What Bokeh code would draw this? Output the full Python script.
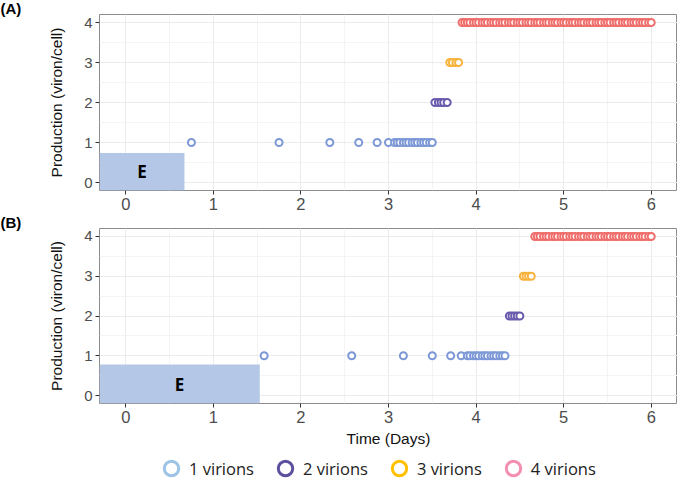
import numpy as np
from bokeh.plotting import figure
from bokeh.layouts import column
from bokeh.models import Range1d, SingleIntervalTicker, Title, Legend, LegendItem
from bokeh.core.properties import value
from bokeh.embed import file_html
from bokeh.resources import INLINE

# virion production levels and their names
levels = [1, 2, 3, 4]
level_names = ["1 virions", "2 virions", "3 virions", "4 virions"]
point_colors = ["#7d98d6", "#6a5aad", "#f7b23b", "#ef6e6b"]
legend_colors = ["#9dc3e6", "#5e4f9e", "#ffc000", "#f48fb1"]

x_lim = [-0.3, 6.3]
y_lim = [-0.2, 4.2]

# panel (A): release times (days) for each production level
a_one = [0.75, 1.75, 2.33, 2.66, 2.87, 3.0, 3.07, 3.1, 3.13, 3.17, 3.2, 3.23,
         3.27, 3.3, 3.33, 3.37, 3.4, 3.43, 3.47, 3.5]
a_two = [3.53, 3.57, 3.6, 3.63, 3.67]
a_three = [3.7, 3.73, 3.77, 3.8]
a_four = [3.84, 3.87, 3.9, 3.93, 3.97, 4.0, 4.03, 4.07, 4.1, 4.13, 4.17, 4.2,
          4.23, 4.27, 4.3, 4.33, 4.37, 4.4, 4.43, 4.47, 4.5, 4.53, 4.57, 4.6,
          4.63, 4.67, 4.7, 4.73, 4.77, 4.8, 4.83, 4.87, 4.9, 4.93, 4.97, 5.0,
          5.03, 5.07, 5.1, 5.13, 5.17, 5.2, 5.23, 5.27, 5.3, 5.33, 5.37, 5.4,
          5.43, 5.47, 5.5, 5.53, 5.57, 5.6, 5.63, 5.67, 5.7, 5.73, 5.77, 5.8,
          5.83, 5.87, 5.9, 5.93, 5.97, 6.0]
a_eclipse_end = 0.67
a_eclipse_top = 0.74

# panel (B)
b_one = [1.58, 2.58, 3.17, 3.5, 3.71, 3.83, 3.9, 3.93, 3.97, 4.0, 4.03, 4.07,
         4.1, 4.13, 4.17, 4.2, 4.23, 4.27, 4.3, 4.33]
b_two = [4.38, 4.41, 4.44, 4.47, 4.5]
b_three = [4.54, 4.57, 4.6, 4.63]
b_four = [4.67, 4.7, 4.73, 4.77, 4.8, 4.83, 4.87, 4.9, 4.93, 4.97, 5.0, 5.03,
          5.07, 5.1, 5.13, 5.17, 5.2, 5.23, 5.27, 5.3, 5.33, 5.37, 5.4, 5.43,
          5.47, 5.5, 5.53, 5.57, 5.6, 5.63, 5.67, 5.7, 5.73, 5.77, 5.8, 5.83,
          5.87, 5.9, 5.93, 5.97, 6.0]
b_eclipse_end = 1.53
b_eclipse_top = 0.78

SANS = "Liberation Sans"
W = 677
LEFT = 99


def make_panel(tag, series, e_end, e_top, height, top, bottom):
    p = figure(width=W, height=height, output_backend="svg", toolbar_location=None,
               x_range=Range1d(*x_lim), y_range=Range1d(*y_lim),
               min_border_left=LEFT, min_border_right=0, min_border_top=top,
               min_border_bottom=bottom)
    p.title = Title(text=tag, align="left", offset=-LEFT, standoff=-5,
                    text_font=SANS, text_font_style="bold", text_font_size="15px",
                    text_color="black")
    p.background_fill_color = "white"
    p.border_fill_color = "white"
    p.outline_line_color = "#8c8c8c"
    p.outline_line_width = 1

    p.xaxis.ticker = SingleIntervalTicker(interval=1, num_minor_ticks=2)
    p.yaxis.ticker = SingleIntervalTicker(interval=1, num_minor_ticks=2)
    for ax in p.axis:
        ax.axis_line_color = None
        ax.major_tick_line_color = "#333333"
        ax.major_tick_out = 4
        ax.major_tick_in = 0
        ax.minor_tick_line_color = None
        ax.major_label_text_font = SANS
        ax.major_label_text_color = "#4d4d4d"
        ax.major_label_standoff = 3
        ax.axis_label_text_font = SANS
        ax.axis_label_text_font_style = "normal"
        ax.axis_label_text_color = "#111111"
        ax.axis_label_text_font_size = "15.5px"
    p.xaxis.major_label_text_font_size = "16.5px"
    p.yaxis.major_label_text_font_size = "15px"
    p.yaxis.axis_label = "Production (viron/cell)"
    p.yaxis.axis_label_standoff = 16

    p.grid.grid_line_color = "#ebebeb"
    p.grid.minor_grid_line_color = "#f4f4f4"

    # eclipse phase box
    p.quad(left=[x_lim[0]], right=[e_end], bottom=[y_lim[0]], top=[e_top],
           fill_color="#b4c7e7", line_color=None)
    p.text(x=[(x_lim[0] + e_end) / 2], y=[(y_lim[0] + e_top) / 2], text=["E"],
           text_align="center", text_baseline="middle", text_font=value("Open Sans"),
           text_font_style="bold", text_font_size="17px", text_color="black")

    for lev, xs, col in zip(levels, series, point_colors):
        p.scatter(xs, np.full(len(xs), lev), size=7, line_width=2,
                  fill_color="white", line_color=col)
    return p


top_p = make_panel("(A)", [a_one, a_two, a_three, a_four], a_eclipse_end, a_eclipse_top,
                   214, 13, 24)
bot_p = make_panel("(B)", [b_one, b_two, b_three, b_four], b_eclipse_end, b_eclipse_top,
                   236, 12, 47)
bot_p.xaxis.axis_label = "Time (Days)"
bot_p.xaxis.axis_label_standoff = 4

# legend strip
leg_p = figure(width=W, height=28, output_backend="svg", toolbar_location=None,
               x_range=Range1d(0, 1), y_range=Range1d(0, 1),
               x_axis_type=None, y_axis_type=None, min_border=0)
leg_p.outline_line_color = None
leg_p.grid.visible = False
items = []
for name, col in zip(level_names, legend_colors):
    r = leg_p.scatter(x=[np.nan], y=[np.nan], size=10, line_width=3,
                      fill_color="white", line_color=col)
    items.append(LegendItem(label=name, renderers=[r]))
legend = Legend(items=items, orientation="horizontal", location=(54, -8),
                glyph_width=36, glyph_height=36, label_standoff=0, spacing=13,
                padding=0, margin=0, border_line_color=None, background_fill_alpha=0,
                label_text_font="Open Sans", label_text_font_size="16.5px",
                label_text_color="#222222")
leg_p.add_layout(legend, "center")

layout = column(top_p, bot_p, leg_p, spacing=0)
open("out.html", "w").write(file_html(layout, INLINE))
